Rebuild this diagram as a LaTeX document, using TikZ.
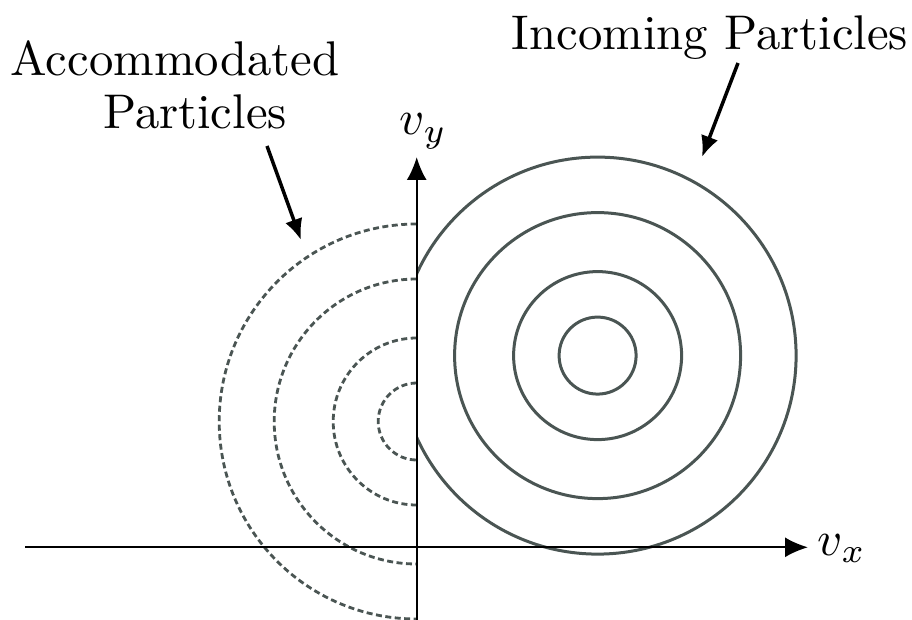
\documentclass[tikz,border=0pt]{standalone}
\usetikzlibrary{arrows.meta}
\definecolor{ring}{HTML}{4A5553}
\tikzset{
  big/.style={font=\fontsize{10}{12}\selectfont, inner sep=0pt, scale=4.87},
  axisline/.style={line width=2pt, draw=black, -{Latex[length=23pt,width=20pt]}},
  pointer/.style={line width=3.5pt, draw=black, -{Latex[length=21pt,width=18pt]}},
  solidring/.style={line width=3pt, draw=ring},
  dashring/.style={line width=2.8pt, draw=ring, dash pattern=on 6pt off 3.5pt},
}
\begin{document}
\begin{tikzpicture}[x=1pt,y=-1pt]
\useasboundingbox (0,0) rectangle (912,620);
% axes
\coordinate (xs) at (25,547.3);
\coordinate (xe) at (808,547.3);
\coordinate (ys) at (416.7,620);
\coordinate (ye) at (416.7,157);
% solid rings (incoming)
\coordinate (ci) at (597.6,355.6);
\begin{scope}
  \clip (416.7,0) rectangle (912,620);
  \foreach \r in {38.5,84,143,198.5} \draw[solidring] (ci) circle[radius=\r];
\end{scope}
% dashed half rings (accommodated)
\coordinate (ca) at (416.7,421.5);
\foreach \r in {38.5,83.5,142.5,197.5}
  \draw[dashring] (ca) ++(0,-\r) arc[start angle=270, end angle=90, radius=\r];
\draw[axisline] (xs) -- (xe);
\draw[axisline] (ys) -- (ye);
\node[big, anchor=base west] (vx) at (817,555) {$v_x$};
\node[big, anchor=base west] (vy) at (399,135) {$v_y$};
% labels
\node[big, anchor=base] (inc) at (710,50) {Incoming Particles};
\node[big, anchor=base] (acc1) at (175,76) {Accommodated};
\node[big, anchor=base] (acc2) at (195,129) {Particles};
\coordinate (incS) at (738,63);
\coordinate (incT) at (702,157);
\coordinate (accS) at (267,146);
\coordinate (accT) at (301,240);
\draw[pointer] (incS) -- (incT);
\draw[pointer] (accS) -- (accT);
\end{tikzpicture}
\end{document}
